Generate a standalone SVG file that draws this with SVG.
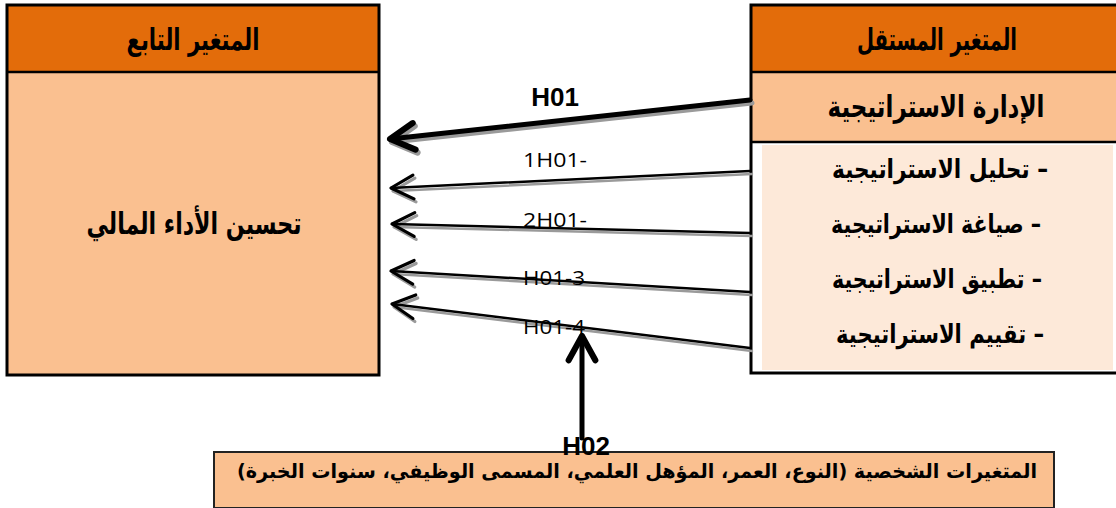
<svg xmlns="http://www.w3.org/2000/svg" width="1116" height="508" viewBox="0 0 1116 508">
<style>
.hdr{fill:#E36C0A}
.lt{fill:#FAC090}
.vlt{fill:#FDE9D9}
.box{fill:none;stroke:#000;stroke-width:3}
.sep{stroke:#000;stroke-width:2.5}
.ar{font-family:"DejaVu Sans",sans-serif;font-weight:bold;fill:#000;direction:rtl;text-anchor:middle}
.lbl{font-family:"Open Sans","Liberation Sans",sans-serif;font-size:20px;fill:#000;text-anchor:middle}
.blbl{font-family:"Liberation Sans",Arial,sans-serif;font-weight:bold;font-size:26px;fill:#000;text-anchor:middle}
.ln{fill:none;stroke:#000;stroke-width:2.5;stroke-linecap:round;stroke-linejoin:round}
.lnb{fill:none;stroke:#000;stroke-width:5;stroke-linecap:round;stroke-linejoin:round}
.sh{fill:none;stroke:#9a9a9a;stroke-width:2.5;stroke-linecap:round;stroke-linejoin:round}
.shb{fill:none;stroke:#9a9a9a;stroke-width:5;stroke-linecap:round;stroke-linejoin:round}
</style>
<defs>
<marker id="chev" markerUnits="userSpaceOnUse" markerWidth="30" markerHeight="30" viewBox="-22 -12 24 24" refX="0" refY="0" orient="auto">
<path d="M-18,-9.5 L0,0 L-18,9.5" fill="none" stroke="#000" stroke-width="2.5" stroke-linecap="round" stroke-linejoin="round"/>
</marker>
<marker id="chevs" markerUnits="userSpaceOnUse" markerWidth="30" markerHeight="30" viewBox="-22 -12 24 24" refX="0" refY="0" orient="auto">
<path d="M-18,-9.5 L0,0 L-18,9.5" fill="none" stroke="#9a9a9a" stroke-width="2.5" stroke-linecap="round" stroke-linejoin="round"/>
</marker>
<marker id="chevb" markerUnits="userSpaceOnUse" markerWidth="34" markerHeight="34" viewBox="-24 -14 28 28" refX="0" refY="0" orient="auto">
<path d="M-20,-11 L0,0 L-20,11" fill="none" stroke="#000" stroke-width="5" stroke-linecap="round" stroke-linejoin="round"/>
</marker>
<marker id="chevbs" markerUnits="userSpaceOnUse" markerWidth="34" markerHeight="34" viewBox="-24 -14 28 28" refX="0" refY="0" orient="auto">
<path d="M-20,-11 L0,0 L-20,11" fill="none" stroke="#9a9a9a" stroke-width="5" stroke-linecap="round" stroke-linejoin="round"/>
</marker>
</defs>

<g id="dependent">
<rect x="7" y="5" width="372" height="67" class="hdr"/>
<rect x="7" y="72" width="372" height="303" class="lt"/>
<line x1="7" y1="72" x2="379" y2="72" class="sep"/>
<rect x="7" y="5" width="372" height="370" class="box"/>
<text x="193" y="50" class="ar" font-size="30" textLength="133" lengthAdjust="spacingAndGlyphs">المتغير التابع</text>
<text x="194" y="234" class="ar" font-size="30" textLength="215" lengthAdjust="spacingAndGlyphs">تحسين الأداء  المالي</text>
</g>

<g id="independent">
<rect x="751" y="5" width="370" height="67" class="hdr"/>
<rect x="751" y="72" width="370" height="70" class="lt"/>
<rect x="751" y="142" width="370" height="231" fill="#fff"/>
<rect x="762" y="145" width="351" height="225" class="vlt"/>
<line x1="751" y1="72" x2="1121" y2="72" class="sep"/>
<line x1="751" y1="142" x2="1121" y2="142" class="sep"/>
<rect x="751" y="5" width="370" height="368" class="box"/>
<text x="937" y="50" class="ar" font-size="30" textLength="160" lengthAdjust="spacingAndGlyphs">المتغير المستقل</text>
<text x="936" y="117" class="ar" font-size="30" textLength="217" lengthAdjust="spacingAndGlyphs">الإدارة الاستراتيجية</text>
<text x="940" y="178" class="ar" font-size="26" textLength="216" lengthAdjust="spacingAndGlyphs">–  تحليل الاستراتيجية</text>
<text x="936" y="233" class="ar" font-size="26" textLength="210" lengthAdjust="spacingAndGlyphs">– صياغة الاستراتيجية</text>
<text x="937" y="288" class="ar" font-size="26" textLength="210" lengthAdjust="spacingAndGlyphs">– تطبيق الاستراتيجية</text>
<text x="940" y="343" class="ar" font-size="26" textLength="208" lengthAdjust="spacingAndGlyphs">– تقييم الاستراتيجية</text>
</g>

<g id="personal">
<rect x="214" y="452" width="840" height="56" class="lt" stroke="#222" stroke-width="2"/>
<text x="637" y="478" class="ar" font-size="20" textLength="800" lengthAdjust="spacingAndGlyphs">المتغيرات الشخصية (النوع، العمر، المؤهل العلمي، المسمى الوظيفي، سنوات الخبرة)</text>
</g>

<g id="connectors">
<g transform="translate(2,3)">
<line x1="750" y1="100" x2="390" y2="139" class="shb" marker-end="url(#chevbs)"/>
<line x1="750" y1="171" x2="391" y2="188" class="sh" marker-end="url(#chevs)"/>
<line x1="750" y1="233" x2="392" y2="224" class="sh" marker-end="url(#chevs)"/>
<line x1="750" y1="292" x2="391" y2="271" class="sh" marker-end="url(#chevs)"/>
<line x1="750" y1="348" x2="392" y2="304" class="sh" marker-end="url(#chevs)"/>
</g>
<line x1="750" y1="100" x2="390" y2="139" class="lnb" marker-end="url(#chevb)"/>
<line x1="750" y1="171" x2="391" y2="188" class="ln" marker-end="url(#chev)"/>
<line x1="750" y1="233" x2="392" y2="224" class="ln" marker-end="url(#chev)"/>
<line x1="750" y1="292" x2="391" y2="271" class="ln" marker-end="url(#chev)"/>
<line x1="750" y1="348" x2="392" y2="304" class="ln" marker-end="url(#chev)"/>
<line x1="582" y1="438" x2="582" y2="336" class="lnb" marker-end="url(#chevb)"/>
</g>

<g id="labels">
<text x="555" y="106" class="blbl">H01</text>
<text x="555" y="167" class="lbl" textLength="64" lengthAdjust="spacingAndGlyphs">1H01-</text>
<text x="555" y="227" class="lbl" textLength="64" lengthAdjust="spacingAndGlyphs">2H01-</text>
<text x="554" y="285" class="lbl" textLength="62" lengthAdjust="spacingAndGlyphs">H01-3</text>
<text x="554" y="334" class="lbl" textLength="62" lengthAdjust="spacingAndGlyphs">H01-4</text>
<text x="586" y="455" class="blbl" font-size="24">H02</text>
</g>
</svg>
